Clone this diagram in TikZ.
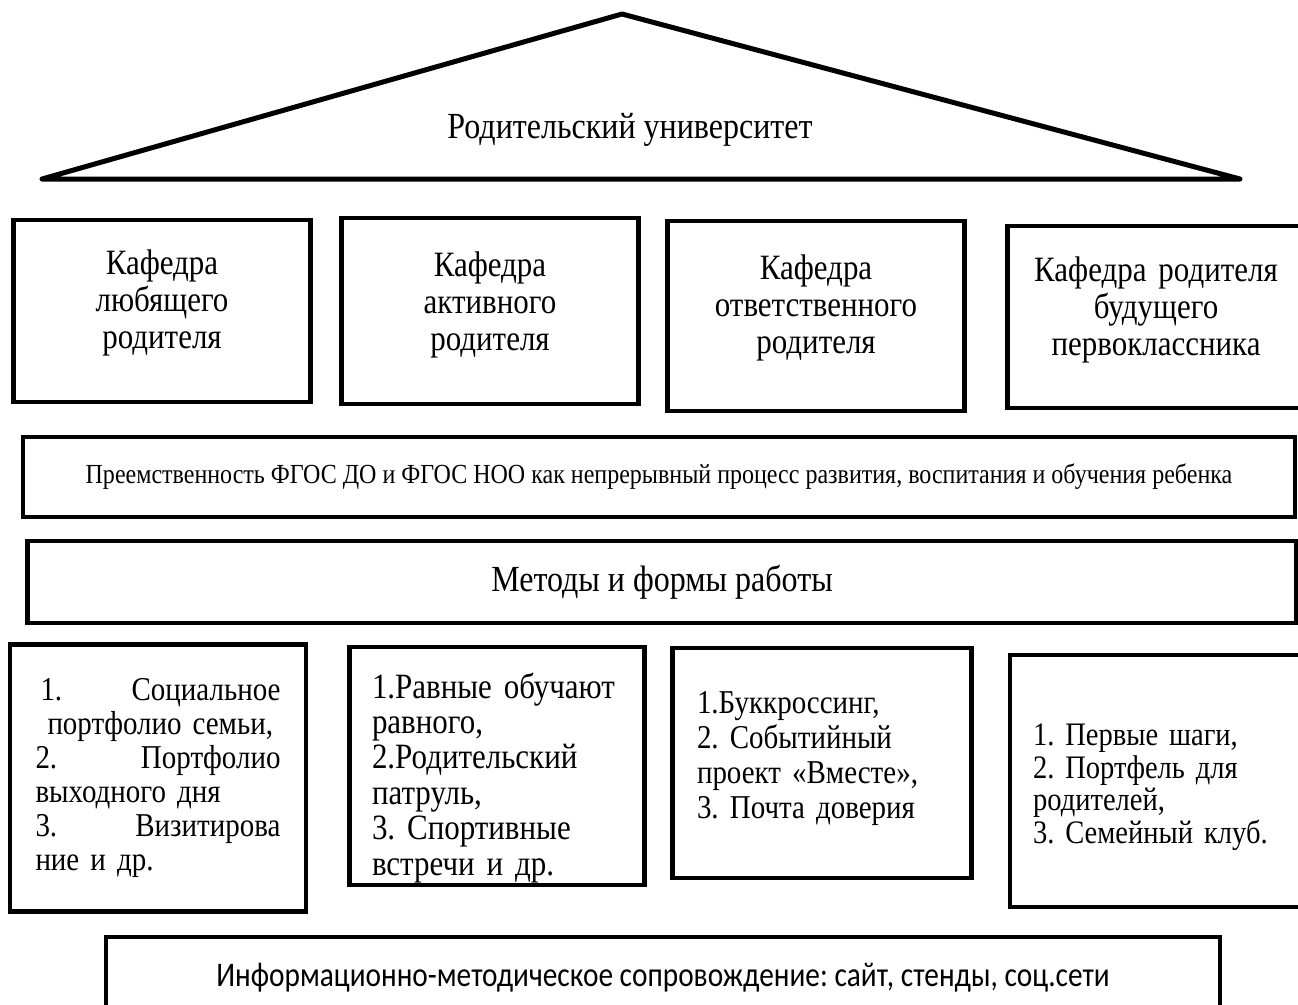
\documentclass[tikz,border=0pt]{standalone}
\usepackage{fontspec}
\setmainfont{Liberation Serif}[FakeStretch=0.87]
\newfontfamily\calibrifont{Carlito}[FakeStretch=0.85]
\usetikzlibrary{positioning}
\newcommand\listgap{\hskip 0pt plus 1filll\relax}
\frenchspacing

\begin{document}
\begin{tikzpicture}[x=1pt, y=-1pt,
                    every box/.style = {rectangle, draw=black, line width=4.5pt, inner sep=0pt},
                    kafedra/.style = {every box, minimum width=297pt, minimum height=182pt, text width=282pt,
                            align=center, font=\fontsize{35.6}{37}\selectfont},
                    band/.style = {every box, minimum height=80pt, align=center},
                    forms/.style = {every box, minimum width=296pt, text width=250pt, align=left},
                    roof/.style = {line width=5pt, line join=round, line cap=round} ]

                \useasboundingbox (0,0) rectangle (1298,1004);
                \clip (0,0) rectangle (1298,1004);

                % roof
                \coordinate (apex) at (622,14);
                \coordinate (eaveL) at (42,179);
                \coordinate (eaveR) at (1240,179);
                \draw [roof] (eaveL) -- (apex) -- (eaveR) -- cycle;
                \node [font=\fontsize{36.8}{40}\selectfont] (university) at (630,130) {Родительский университет};

                % chairs
                \node [kafedra] (loving) at (162,311) {Кафедра\\любящего\\родителя\rule[-24pt]{0pt}{1pt}};
                \node [kafedra, minimum height=186pt] (active) at (490,311) {Кафедра\\активного\\родителя\rule[-20pt]{0pt}{1pt}};
                \node [kafedra, minimum height=190pt] (responsible) at (816,316) {Кафедра\\ответственного\\родителя\rule[-24pt]{0pt}{1pt}};
                \node [kafedra] (firstgrade) at (1156,317) {Кафедра родителя\\будущего\\первоклассника\rule[-22pt]{0pt}{1pt}};

                \node [band, minimum width=1272pt, font=\fontsize{27.6}{30}\selectfont] (continuity) at (659,477)
                      {Преемственность ФГОС ДО и ФГОС НОО как непрерывный процесс развития, воспитания и обучения ребенка};
                \node [band, minimum width=1269pt, minimum height=82pt, font=\fontsize{36.8}{40}\selectfont] (methods) at (662,582)
                      {Методы и формы работы};

                % forms of work
                \node [forms, minimum height=267pt, text width=245pt, font=\fontsize{33.3}{34}\selectfont] (forms1) at (158,778)
                      {\hspace*{5pt}1.\listgap Социальное\\\hspace*{12pt}портфолио семьи,\\2.\listgap Портфолио\\выходного дня\\3.\listgap Визитирова\\ние и др.};
                \node [forms, minimum width=295pt, minimum height=238pt, font=\fontsize{35.6}{35.4}\selectfont] (forms2) at (497,766)
                      {\rule{0pt}{41pt}1.Равные обучают\\равного,\\2.Родительский\\патруль,\\3. Спортивные\\\smash{встречи и др.}};
                \node [forms, minimum width=299pt, minimum height=230pt, font=\fontsize{33.3}{35}\selectfont] (forms3) at (822,763)
                      {1.Буккроссинг,\\2. Событийный\\проект «Вместе»,\\3. Почта доверия\rule[-17pt]{0pt}{1pt}};
                \node [forms, minimum height=252pt, font=\fontsize{32.8}{32.5}\selectfont] (forms4) at (1158,781)
                      {\rule{0pt}{34pt}1. Первые шаги,\\2. Портфель для\\родителей,\\3. Семейный клуб.};

                \node [band, minimum width=1114pt, minimum height=82pt, font=\calibrifont\fontsize{34.5}{36}\selectfont] (support) at (663,978)
                      {Информационно-методическое сопровождение: сайт, стенды, соц.сети};
\end{tikzpicture}
\end{document}
